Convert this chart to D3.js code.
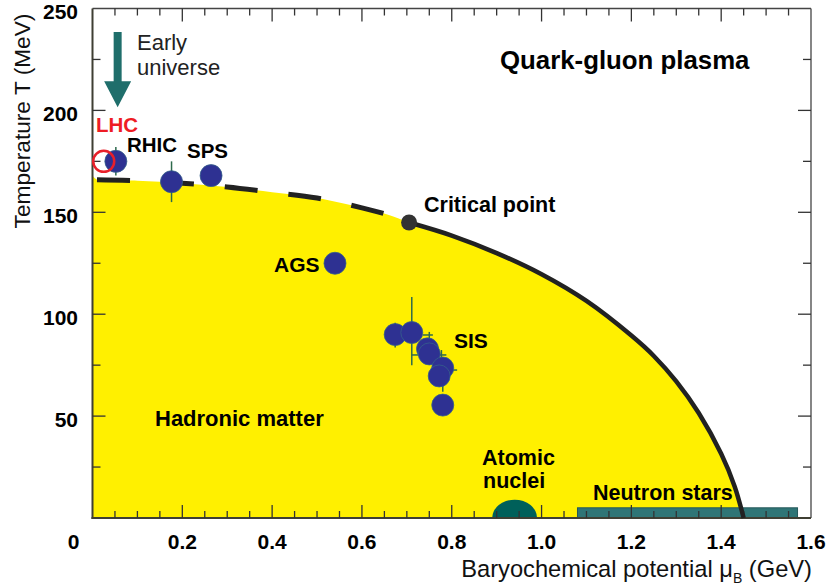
<!DOCTYPE html>
<html>
<head>
<meta charset="utf-8">
<script src="https://cdn.jsdelivr.net/npm/d3@7"></script>
<style>
  html, body { margin: 0; padding: 0; background: #ffffff; }
  svg { display: block; }
  text { font-family: "Liberation Sans", Arial, Helvetica, sans-serif; }
</style>
</head>
<body>
<svg id="chart" width="828" height="586"></svg>
<script>
// ---------------- DATA ----------------
const xDomain = [0, 1.6];
const yDomain = [0, 250];
const xTickValues = [0, 0.2, 0.4, 0.6, 0.8, 1.0, 1.2, 1.4, 1.6];
const xTickLabels = ["0", "0.2", "0.4", "0.6", "0.8", "1.0", "1.2", "1.4", "1.6"];
const yTickValues = [50, 100, 150, 200, 250];
const yTickLabels = ["50", "100", "150", "200", "250"];

// phase boundary: crossover (dashed) up to critical point, first-order (solid) after
const crossoverMu = [0.01, 0.10, 0.20, 0.30, 0.40, 0.50, 0.60, 0.66, 0.705];
const crossoverT  = [166, 165.5, 164.3, 162.4, 159.8, 157, 152.2, 148.7, 145];
const firstOrderMu = [0.705, 0.80, 0.90, 1.00, 1.10, 1.20, 1.25, 1.30, 1.35, 1.40, 1.43, 1.45];
const firstOrderT  = [145, 138.6, 130, 119.6, 106.5, 89.5, 79.5, 67, 51.5, 31.5, 15.5, 0];
const hadronEdgeT = 168;   // top of hadronic region at mu = 0

const criticalPoint = [0.705, 145];

// freeze-out points (experiments)
const expMu = [0.052, 0.176, 0.264, 0.54, 0.674, 0.711, 0.746, 0.75, 0.78, 0.772, 0.78];
const expT  = [175, 165, 168, 125, 90, 91, 83, 80.5, 73.6, 69.7, 55.4];
const lhcPoint = [0.025, 175];

// error bars: vertical [mu, Tlow, Thigh], horizontal [T, muLow, muHigh]
const vErrors = [[0.052, 168, 182], [0.176, 155, 175], [0.674, 83.7, 95.8], [0.711, 75, 108.4],
                 [0.75, 88.2, 91.3], [0.777, 77.5, 82.4], [0.78, 62, 65]];
const hErrors = [[89.8, 0.736, 0.758], [80, 0.766, 0.788], [80, 0.711, 0.745], [72.6, 0.80, 0.812]];

// atomic nuclei and neutron stars
const nucleiMu = [0.89, 0.99];
const nucleiT = 9;
const neutronMu = [1.08, 1.57];
const neutronT = 5;

// early-universe arrow (mu, T start, T tip)
const arrowMu = 0.056;
const arrowT = [238.5, 201.5];

// ---------------- CHART ----------------
const svg = d3.select("#chart");
const x = d3.scaleLinear().domain(xDomain).range([92.5, 811]);
const y = d3.scaleLinear().domain(yDomain).range([518, 8.5]);

// yellow hadronic region
const fillPts = [[0, hadronEdgeT]]
  .concat(crossoverMu.map((m, i) => [m, crossoverT[i]]))
  .concat(firstOrderMu.slice(1).map((m, i) => [m, firstOrderT[i + 1]]));
const smooth = d3.curveCatmullRom.alpha(0.5);
const lineGen = d3.line().x(d => x(d[0])).y(d => y(d[1])).curve(smooth);
svg.append("path")
  .attr("d", lineGen(fillPts) + `L${x(0)},${y(0)}Z`)
  .attr("fill", "#fff000");

// neutron stars box
svg.append("rect")
  .attr("x", x(neutronMu[0])).attr("y", y(neutronT))
  .attr("width", x(neutronMu[1]) - x(neutronMu[0]))
  .attr("height", y(0) - y(neutronT))
  .attr("fill", "#2f7576").attr("stroke", "#24585a").attr("stroke-width", 1);

// atomic nuclei half ellipse
{
  const cx = x((nucleiMu[0] + nucleiMu[1]) / 2), cy = y(0);
  const rx = (x(nucleiMu[1]) - x(nucleiMu[0])) / 2;
  const ry = y(0) - y(nucleiT);
  svg.append("path")
    .attr("d", `M${cx - rx},${cy} A${rx},${ry} 0 0 1 ${cx + rx},${cy} Z`)
    .attr("fill", "#00605a");
}

// axes frame & ticks
const frame = svg.append("g");
frame.append("line").attr("x1", x(0)).attr("x2", x(1.6)).attr("y1", y(250)).attr("y2", y(250))
  .attr("stroke", "#444").attr("stroke-width", 1.3);
frame.append("line").attr("x1", x(1.6)).attr("x2", x(1.6)).attr("y1", y(250)).attr("y2", y(0))
  .attr("stroke", "#444").attr("stroke-width", 1.3);

const minorX = d3.range(0, 33).map(i => i * 0.05);
const minorY = d3.range(0, 11).map(i => i * 25);
const isMajorX = v => Math.abs(v / 0.2 - Math.round(v / 0.2)) < 1e-6;
const isMajorY = v => v % 50 === 0;

const tickG = svg.append("g").attr("stroke", "#333").attr("stroke-width", 1.3);
minorX.forEach(v => {
  if (v <= 0 || v >= 1.6) return;
  const len = isMajorX(v) ? 13 : 7;
  tickG.append("line").attr("x1", x(v)).attr("x2", x(v)).attr("y1", y(0)).attr("y2", y(0) - len);
  tickG.append("line").attr("x1", x(v)).attr("x2", x(v)).attr("y1", y(250)).attr("y2", y(250) + len);
});
minorY.forEach(v => {
  if (v <= 0 || v >= 250) return;
  const len = isMajorY(v) ? 13 : 8;
  tickG.append("line").attr("y1", y(v)).attr("y2", y(v)).attr("x1", x(0)).attr("x2", x(0) + len);
  tickG.append("line").attr("y1", y(v)).attr("y2", y(v)).attr("x1", x(1.6)).attr("x2", x(1.6) - len);
});

frame.append("line").attr("x1", x(0)).attr("x2", x(0)).attr("y1", y(250)).attr("y2", y(0) + 1)
  .attr("stroke", "#3f3f33").attr("stroke-width", 2);
frame.append("line").attr("x1", x(0) - 1).attr("x2", x(1.6)).attr("y1", y(0)).attr("y2", y(0))
  .attr("stroke", "#3f3f33").attr("stroke-width", 2);

// tick labels
svg.append("g").selectAll("text").data(xTickValues).join("text")
  .attr("x", (d, i) => x(d) + (d === 0 ? -19 : 0))
  .attr("y", 549)
  .attr("text-anchor", "middle")
  .attr("font-size", 21).attr("font-weight", "bold").attr("fill", "#000")
  .text((d, i) => xTickLabels[i]);
svg.append("g").selectAll("text").data(yTickValues).join("text")
  .attr("x", 78)
  .attr("y", d => y(d) + 10.5)
  .attr("text-anchor", "end")
  .attr("font-size", 21).attr("font-weight", "bold").attr("fill", "#000")
  .text((d, i) => yTickLabels[i]);

// axis titles
const xt = svg.append("text").attr("x", 812).attr("y", 577).attr("text-anchor", "end")
  .attr("font-size", 23.7).attr("fill", "#111");
xt.append("tspan").text("Baryochemical potential μ");
xt.append("tspan").attr("font-size", 14).attr("dy", 6).text("B");
xt.append("tspan").attr("dy", -6).text(" (GeV)");

svg.append("text")
  .attr("transform", `translate(30,${121}) rotate(-90)`)
  .attr("text-anchor", "middle").attr("font-size", 22.7).attr("fill", "#111")
  .text("Temperature T (MeV)");

// phase boundary lines
svg.append("path").datum(crossoverMu.map((m, i) => [m, crossoverT[i]]))
  .attr("d", lineGen).attr("fill", "none").attr("stroke", "#222")
  .attr("stroke-width", 5).attr("stroke-dasharray", "33,31");
svg.append("path").datum(firstOrderMu.map((m, i) => [m, firstOrderT[i]]))
  .attr("d", lineGen).attr("fill", "none").attr("stroke", "#222")
  .attr("stroke-width", 4.5);

// error bars
const errG = svg.append("g").attr("stroke", "#2e6a4c").attr("stroke-width", 1.5);
vErrors.forEach(e => errG.append("line").attr("x1", x(e[0])).attr("x2", x(e[0]))
  .attr("y1", y(e[1])).attr("y2", y(e[2])));
hErrors.forEach(e => errG.append("line").attr("y1", y(e[0])).attr("y2", y(e[0]))
  .attr("x1", x(e[1])).attr("x2", x(e[2])));

// experiment points
svg.append("g").selectAll("circle").data(expMu).join("circle")
  .attr("cx", d => x(d)).attr("cy", (d, i) => y(expT[i])).attr("r", 11)
  .attr("fill", "#2e3192").attr("stroke", "#35608a").attr("stroke-width", 0.8);

// LHC open circle
svg.append("circle").attr("cx", x(lhcPoint[0])).attr("cy", y(lhcPoint[1])).attr("r", 10.5)
  .attr("fill", "none").attr("stroke", "#e8202a").attr("stroke-width", 2.5);

// critical point
svg.append("circle").attr("cx", x(criticalPoint[0])).attr("cy", y(criticalPoint[1])).attr("r", 8)
  .attr("fill", "#333333");

// early universe arrow
{
  const cx = x(arrowMu), y0 = y(arrowT[0]), tip = y(arrowT[1]);
  const headLen = 26, headW = 13.5, shaftW = 4;
  svg.append("path")
    .attr("d", `M${cx - shaftW},${y0} L${cx + shaftW},${y0} L${cx + shaftW},${tip - headLen}
      L${cx + headW},${tip - headLen} L${cx},${tip} L${cx - headW},${tip - headLen}
      L${cx - shaftW},${tip - headLen} Z`)
    .attr("fill", "#1f6e6b");
}

// annotations
const ann = [
  { t: "Early", x: 137, y: 50, s: 22, w: "normal", c: "#222" },
  { t: "universe", x: 137, y: 75, s: 22, w: "normal", c: "#222" },
  { t: "LHC", x: 96, y: 132, s: 20.5, w: "bold", c: "#ee1c24" },
  { t: "RHIC", x: 127, y: 152, s: 20.5, w: "bold", c: "#000" },
  { t: "SPS", x: 187, y: 158, s: 20.5, w: "bold", c: "#000" },
  { t: "Critical point", x: 424, y: 212, s: 21.5, w: "bold", c: "#000" },
  { t: "AGS", x: 274, y: 272, s: 21, w: "bold", c: "#000" },
  { t: "SIS", x: 454, y: 348, s: 21, w: "bold", c: "#000" },
  { t: "Quark-gluon plasma", x: 500, y: 69, s: 25.8, w: "bold", c: "#000" },
  { t: "Hadronic matter", x: 155, y: 426, s: 22, w: "bold", c: "#000" },
  { t: "Atomic", x: 482, y: 465, s: 21.5, w: "bold", c: "#000" },
  { t: "nuclei", x: 483, y: 488, s: 21.5, w: "bold", c: "#000" },
  { t: "Neutron stars", x: 593, y: 500, s: 21.5, w: "bold", c: "#000" }
];
svg.append("g").selectAll("text").data(ann).join("text")
  .attr("x", d => d.x).attr("y", d => d.y)
  .attr("font-size", d => d.s).attr("font-weight", d => d.w).attr("fill", d => d.c)
  .text(d => d.t);
</script>
</body>
</html>
